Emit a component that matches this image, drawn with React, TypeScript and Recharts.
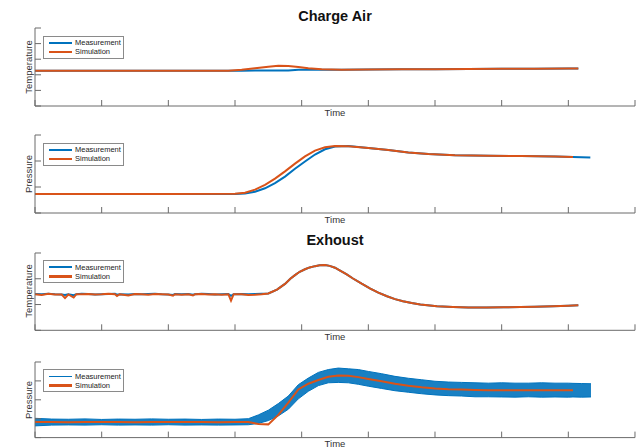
import { ComposedChart, Line, Area, XAxis, YAxis } from "recharts";

const BLUE = "#0072BD";
const ORANGE = "#D95319";
const AXIS = "#6a6a6a";
const FONT = '"Liberation Sans", Arial, Helvetica, sans-serif';

const timeTicks = [0, 1, 2, 3, 4, 5, 6, 7, 8, 9];

// Charge Air - temperature
const caTempTime = [0, 1, 2, 2.9, 3.1, 3.3, 3.5, 3.65, 3.8, 3.95, 4.1, 4.3, 4.6, 5, 5.5, 6, 6.5, 7, 7.5, 8, 8.15];
const caTempMeas = [2.26, 2.26, 2.26, 2.26, 2.26, 2.27, 2.27, 2.27, 2.28, 2.33, 2.32, 2.32, 2.33, 2.34, 2.35, 2.36, 2.37, 2.38, 2.39, 2.41, 2.41];
const caTempSim = [2.26, 2.26, 2.26, 2.26, 2.32, 2.42, 2.52, 2.58, 2.57, 2.5, 2.42, 2.35, 2.33, 2.34, 2.35, 2.36, 2.37, 2.38, 2.39, 2.41, 2.41];

// Charge Air - pressure
const caPresTime = [0, 1, 2, 3, 3.15, 3.3, 3.45, 3.6, 3.75, 3.9, 4.05, 4.2, 4.35, 4.5, 4.7, 5, 5.3, 5.6, 5.9, 6.3, 6.8, 7.3, 7.8, 8.07, 8.33];
const caPresMeas = [0.73, 0.73, 0.73, 0.73, 0.75, 0.82, 0.95, 1.15, 1.4, 1.7, 1.98, 2.25, 2.45, 2.56, 2.58, 2.5, 2.42, 2.33, 2.27, 2.22, 2.2, 2.19, 2.17, 2.15, 2.13];
const caPresSim = [0.73, 0.73, 0.73, 0.74, 0.78, 0.9, 1.08, 1.32, 1.6, 1.9, 2.18, 2.4, 2.53, 2.58, 2.57, 2.5, 2.42, 2.33, 2.27, 2.22, 2.2, 2.19, 2.17, 2.15, null];

// Exhaust - temperature
const exTempTime = [
  0, 0.1, 0.2, 0.3, 0.4, 0.45, 0.5, 0.58, 0.62, 0.7, 0.8, 0.9, 1, 1.1, 1.2, 1.23, 1.27, 1.4, 1.5, 1.6, 1.7, 1.8, 1.9, 2, 2.07, 2.1, 2.2, 2.3, 2.37, 2.4,
  2.5, 2.6, 2.7, 2.8, 2.9, 2.94, 2.98, 3.1, 3.2, 3.3, 3.4, 3.5, 3.63, 3.75, 3.83, 3.9, 3.97, 4.05, 4.12, 4.2, 4.27, 4.35, 4.42,
  4.5, 4.57, 4.67, 4.77, 4.9, 5.03, 5.15, 5.28, 5.4, 5.52, 5.65, 5.78, 6.03, 6.27, 6.5, 6.78, 7.03, 7.28, 7.5, 7.77, 8, 8.15,
];
const exTempMeas = [
  1.41, 1.4, 1.42, 1.4, 1.39, 1.37, 1.4, 1.36, 1.4, 1.42, 1.41, 1.39, 1.4, 1.41, 1.42, 1.38, 1.4, 1.39, 1.41, 1.4, 1.41, 1.42, 1.4, 1.39, 1.37, 1.41, 1.4, 1.41, 1.38, 1.4,
  1.42, 1.41, 1.39, 1.4, 1.41, 1.34, 1.4, 1.41, 1.4, 1.41, 1.42, 1.43, 1.58, 1.8, 2.0, 2.14, 2.27, 2.37, 2.44, 2.49, 2.52, 2.53, 2.5,
  2.43, 2.33, 2.18, 2.01, 1.81, 1.62, 1.46, 1.32, 1.21, 1.13, 1.06, 1.0, 0.93, 0.9, 0.88, 0.88, 0.89, 0.9, 0.91, 0.93, 0.95, 0.97,
];
const exTempSim = [
  1.4, 1.37, 1.42, 1.39, 1.39, 1.25, 1.39, 1.27, 1.4, 1.4, 1.41, 1.39, 1.4, 1.42, 1.4, 1.33, 1.4, 1.35, 1.41, 1.4, 1.38, 1.41, 1.4, 1.39, 1.34, 1.4, 1.38, 1.4, 1.35, 1.4,
  1.41, 1.39, 1.4, 1.38, 1.4, 1.15, 1.4, 1.4, 1.37, 1.38, 1.4, 1.43, 1.58, 1.8, 2.0, 2.14, 2.27, 2.37, 2.44, 2.49, 2.52, 2.53, 2.5,
  2.43, 2.33, 2.18, 2.01, 1.81, 1.62, 1.46, 1.32, 1.21, 1.13, 1.06, 1.0, 0.93, 0.9, 0.88, 0.88, 0.89, 0.9, 0.91, 0.93, 0.95, 0.97,
];

// Exhaust - pressure (measurement drawn as its noise envelope)
const exPresTime = [
  0, 0.25, 0.5, 0.75, 1, 1.25, 1.5, 1.75, 2, 2.25, 2.5, 2.75, 3, 3.2, 3.35, 3.5, 3.65, 3.8, 3.95, 4.1, 4.25, 4.4,
  4.55, 4.7, 4.85, 5, 5.2, 5.4, 5.6, 5.8, 6, 6.2, 6.4, 6.6, 6.8, 7, 7.2, 7.4, 7.6, 7.8, 8, 8.07, 8.2, 8.34,
];
const exPresMeasLow = [
  0.62, 0.66, 0.67, 0.66, 0.68, 0.66, 0.67, 0.66, 0.68, 0.66, 0.67, 0.66, 0.67, 0.68, 0.75, 0.9, 1.15, 1.5, 2.05, 2.45, 2.75, 2.9,
  2.92, 2.9, 2.82, 2.72, 2.6, 2.48, 2.4, 2.32, 2.26, 2.22, 2.2, 2.16, 2.16, 2.15, 2.14, 2.16, 2.14, 2.15, 2.14, 2.15, 2.14, 2.15,
];
const exPresMeasHigh = [
  1.02, 0.98, 0.97, 0.99, 0.96, 0.98, 0.97, 0.99, 0.97, 0.98, 0.96, 0.98, 0.97, 1.0, 1.2, 1.45, 1.8, 2.2, 2.8, 3.15, 3.45, 3.6,
  3.68, 3.64, 3.6, 3.5, 3.38, 3.24, 3.14, 3.06, 2.98, 2.94, 2.92, 2.9, 2.88, 2.9, 2.88, 2.88, 2.9, 2.88, 2.88, 2.87, 2.86, 2.85,
];
const exPresSim = [
  0.82, 0.82, 0.81, 0.82, 0.83, 0.82, 0.81, 0.82, 0.82, 0.83, 0.82, 0.81, 0.82, 0.82, 0.72, 0.7, 1.2, 1.85, 2.55, 2.85, 3.05, 3.22,
  3.28, 3.27, 3.2, 3.1, 2.98, 2.85, 2.74, 2.66, 2.6, 2.56, 2.54, 2.52, 2.51, 2.5, 2.5, 2.5, 2.5, 2.5, 2.5, 2.5, null, null,
];

type Row = { t: number; m?: number | null; s?: number | null; band?: [number, number] };

const emptyTick = () => <g />;

function Legend({ top, thinMeas }: { top: number; thinMeas?: boolean }) {
  const row = (color: string, w: number, label: string) => (
    <div style={{ display: "flex", alignItems: "center", height: 9.2 }}>
      <div style={{ width: 23, height: w, background: color, marginLeft: 5, marginRight: 3 }} />
      <span style={{ fontSize: 7.5, color: "#222", lineHeight: "9px" }}>{label}</span>
    </div>
  );
  return (
    <div
      style={{
        position: "absolute",
        left: 43,
        top,
        width: 81,
        height: 23,
        boxSizing: "border-box",
        border: "1px solid #8a8a8a",
        background: "#fff",
        paddingTop: 1.5,
      }}
    >
      {row(BLUE, thinMeas ? 1 : 2.2, "Measurement")}
      {row(ORANGE, 2.2, "Simulation")}
    </div>
  );
}

function Panel({
  plotTop,
  plotBottom,
  yTicks,
  rows,
  yLabel,
  noisy,
}: {
  plotTop: number;
  plotBottom: number;
  yTicks: number[];
  rows: Row[];
  yLabel: string;
  noisy?: boolean;
}) {
  const pad = 10;
  const h = plotBottom - plotTop + pad * 2;
  return (
    <>
      <div style={{ position: "absolute", left: 0, top: plotTop - pad }}>
        <ComposedChart width={639} height={h} data={rows} margin={{ top: pad, right: 4, bottom: pad, left: 35 }}>
          <XAxis
            type="number"
            dataKey="t"
            domain={[0, 9]}
            ticks={timeTicks}
            interval={0}
            height={10}
            mirror
            tickSize={6}
            tick={emptyTick}
            stroke={AXIS}
          />
          <YAxis
            type="number"
            domain={[0, yTicks[yTicks.length - 1]]}
            ticks={yTicks}
            interval={0}
            width={10}
            mirror
            tickSize={6}
            tick={emptyTick}
            stroke={AXIS}
          />
          {noisy ? (
            <Area
              type="linear"
              dataKey="band"
              stroke={BLUE}
              strokeWidth={1}
              fill={BLUE}
              fillOpacity={0.9}
              dot={false}
              activeDot={false}
              isAnimationActive={false}
            />
          ) : (
            <Line
              type="linear"
              dataKey="m"
              stroke={BLUE}
              strokeWidth={2}
              dot={false}
              activeDot={false}
              isAnimationActive={false}
            />
          )}
          <Line
            type="linear"
            dataKey="s"
            stroke={ORANGE}
            strokeWidth={2}
            dot={false}
            activeDot={false}
            isAnimationActive={false}
          />
        </ComposedChart>
      </div>
      <div
        style={{
          position: "absolute",
          left: 27.5,
          top: (plotTop + plotBottom) / 2,
          transform: "translate(-50%, -50%) rotate(-90deg)",
          fontSize: 9.5,
          color: "#333",
          whiteSpace: "nowrap",
        }}
      >
        {yLabel}
      </div>
      <div
        style={{
          position: "absolute",
          left: 335,
          top: plotBottom + 6,
          transform: "translate(-50%, -50%)",
          fontSize: 9.5,
          color: "#333",
        }}
      >
        Time
      </div>
      <Legend top={plotTop + 7.5} thinMeas={noisy} />
    </>
  );
}

function Title({ text, y }: { text: string; y: number }) {
  return (
    <div
      style={{
        position: "absolute",
        left: 335,
        top: y,
        transform: "translate(-50%, -50%)",
        fontSize: 14.5,
        fontWeight: "bold",
        color: "#111",
        whiteSpace: "nowrap",
      }}
    >
      {text}
    </div>
  );
}

export default function App() {
  const caTempRows: Row[] = caTempTime.map((t, i) => ({ t, m: caTempMeas[i], s: caTempSim[i] }));
  const caPresRows: Row[] = caPresTime.map((t, i) => ({ t, m: caPresMeas[i], s: caPresSim[i] }));
  const exTempRows: Row[] = exTempTime.map((t, i) => ({ t, m: exTempMeas[i], s: exTempSim[i] }));
  const exPresRows: Row[] = exPresTime.map((t, i) => ({
    t,
    band: [exPresMeasLow[i], exPresMeasHigh[i]],
    s: exPresSim[i],
  }));

  return (
    <div
      style={{
        position: "absolute",
        left: 0,
        top: 0,
        width: 639,
        height: 448,
        background: "#fff",
        overflow: "hidden",
        fontFamily: FONT,
      }}
    >
      <Title text="Charge Air" y={16} />
      <Panel plotTop={28} plotBottom={106} yTicks={[0, 1, 2, 3, 4, 5]} rows={caTempRows} yLabel="Temperature" />
      <Panel plotTop={135} plotBottom={213} yTicks={[0, 1, 2, 3]} rows={caPresRows} yLabel="Pressure" />
      <Title text="Exhoust" y={240} />
      <Panel plotTop={252.7} plotBottom={330} yTicks={[0, 1, 2, 3]} rows={exTempRows} yLabel="Temperature" />
      <Panel plotTop={361.7} plotBottom={437.3} yTicks={[0, 1, 2, 3, 4]} rows={exPresRows} yLabel="Pressure" noisy />
    </div>
  );
}
